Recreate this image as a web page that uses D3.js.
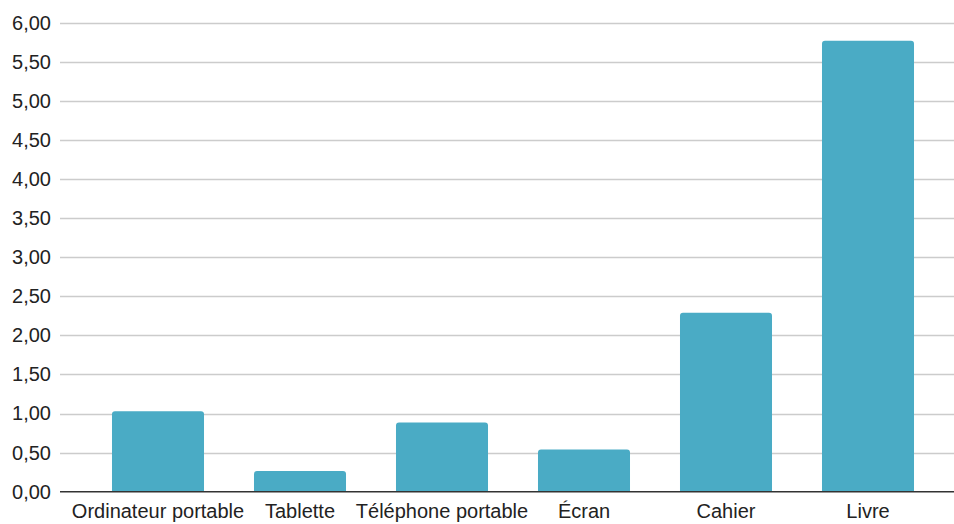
<!DOCTYPE html>
<html>
<head>
<meta charset="utf-8">
<script src="https://cdn.jsdelivr.net/npm/d3@7"></script>
<style>
  html, body { margin: 0; padding: 0; background: #ffffff; }
  svg { display: block; }
  text { font-family: "Liberation Sans", Arial, sans-serif; fill: #222222; }
</style>
</head>
<body>
<svg id="chart" width="954" height="524"></svg>
<script>
// Categories and their values
const categories = ["Ordinateur portable", "Tablette", "Téléphone portable", "Écran", "Cahier", "Livre"];
const values = [1.03, 0.265, 0.885, 0.54, 2.29, 5.77];
const yTicks = [0, 0.5, 1, 1.5, 2, 2.5, 3, 3.5, 4, 4.5, 5, 5.5, 6];

const svg = d3.select("#chart");
const plotLeft = 60, plotRight = 954;
const yTop = 22.7, yBottom = 491.7;

const y = d3.scaleLinear().domain([0, 6]).range([yBottom, yTop]);
const x = d3.scaleBand()
  .domain(categories)
  .range([87, 939])
  .paddingInner(0.352)
  .paddingOuter(0.176);

const fmt = v => d3.format(".2f")(v).replace(".", ",");

// Horizontal gridlines
svg.append("g")
  .selectAll("line")
  .data(yTicks.filter(t => t > 0))
  .join("line")
  .attr("x1", plotLeft)
  .attr("x2", plotRight)
  .attr("y1", d => Math.round(y(d)) + 0.5)
  .attr("y2", d => Math.round(y(d)) + 0.5)
  .attr("stroke", "#cccccc")
  .attr("stroke-width", 1.3);

// Y axis labels
const yAxis = d3.axisLeft(y).tickValues(yTicks).tickFormat(fmt).tickSize(0).tickPadding(0);
const yg = svg.append("g").attr("transform", `translate(51,0)`).call(yAxis);
yg.select(".domain").remove();
yg.selectAll("text")
  .style("font-family", '"Liberation Sans", Arial, sans-serif')
  .style("font-size", "20px")
  .attr("fill", "#222222");

// Bars with lightly rounded top corners
const r = 3;
svg.append("g")
  .selectAll("path")
  .data(categories.map((c, i) => ({ c, v: values[i] })))
  .join("path")
  .attr("fill", "#4aabc5")
  .attr("d", d => {
    const x0 = x(d.c), x1 = x0 + x.bandwidth();
    const yt = y(d.v), yb = y(0);
    return `M${x0},${yb} L${x0},${yt + r} Q${x0},${yt} ${x0 + r},${yt} L${x1 - r},${yt} Q${x1},${yt} ${x1},${yt + r} L${x1},${yb} Z`;
  });

// Baseline axis with category labels
const xAxis = d3.axisBottom(x).tickSize(0).tickPadding(0);
const xg = svg.append("g").attr("transform", `translate(0,${yBottom})`).call(xAxis);
xg.select(".domain").remove();
xg.selectAll("text")
  .attr("dy", null)
  .attr("y", 26)
  .style("font-family", '"Liberation Sans", Arial, sans-serif')
  .style("font-size", "20px")
  .attr("fill", "#222222");

svg.append("line")
  .attr("x1", plotLeft)
  .attr("x2", plotRight)
  .attr("y1", yBottom)
  .attr("y2", yBottom)
  .attr("stroke", "#333333")
  .attr("stroke-width", 1.5);
</script>
</body>
</html>
